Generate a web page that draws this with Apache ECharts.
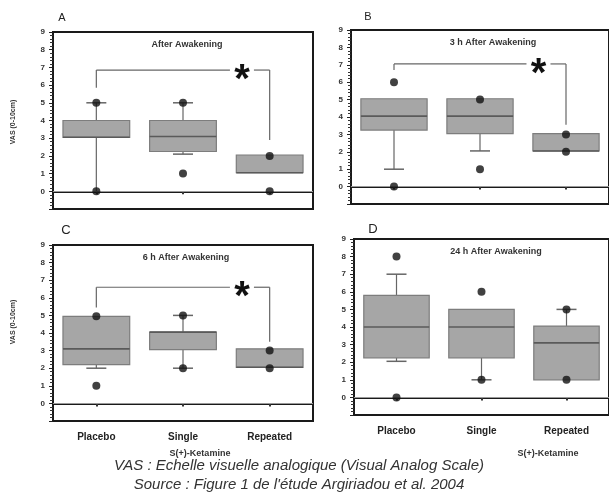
<!DOCTYPE html>
<html>
<head>
<meta charset="utf-8">
<script src="https://cdn.jsdelivr.net/npm/echarts@6/dist/echarts.min.js"></script>
<style>html,body{margin:0;padding:0;background:#fff}#c{width:609px;height:500px}</style>
</head>
<body>
<div id="c"></div>
<script>
// ---------- data ----------
const categories = ['Placebo', 'Single', 'Repeated'];
const panelLetters = ['A', 'B', 'C', 'D'];
const panelTitles = ['After Awakening', '3 h After Awakening', '6 h After Awakening', '24 h After Awakening'];
const yMin = -1, yMax = 9;

// boxes: [q1, median, q3] per category
const boxA = [[3.05, 3.05, 4.0], [2.25, 3.1, 4.0], [1.05, 1.05, 2.05]];
const boxB = [[3.25, 4.05, 5.05], [3.05, 4.05, 5.05], [2.05, 2.05, 3.05]];
const boxC = [[2.2, 3.1, 4.95], [3.05, 4.05, 4.05], [2.05, 2.05, 3.1]];
const boxD = [[2.25, 4.0, 5.8], [2.25, 4.0, 5.0], [1.0, 3.1, 4.05]];

// whiskers: [low end, high end] (null = none)
const whiskerA = [[0, 5], [2.1, 5], [null, null]];
const whiskerB = [[1.0, null], [2.05, null], [null, null]];
const whiskerC = [[2.0, null], [2.0, 5.0], [null, null]];
const whiskerD = [[2.05, 7.0], [1.0, null], [null, 5.0]];

// whisker caps: [low cap, high cap]
const capA = [[0, 1], [1, 1], [0, 0]];
const capB = [[1, 0], [1, 0], [0, 0]];
const capC = [[1, 0], [1, 1], [0, 0]];
const capD = [[1, 1], [1, 0], [0, 1]];

// individual dots: [category index, value]
const dotsA = [[0, 5], [0, 0], [1, 5], [1, 1], [2, 2], [2, 0]];
const dotsB = [[0, 6], [0, 0], [1, 5], [1, 1], [2, 3], [2, 2]];
const dotsC = [[0, 4.95], [0, 1], [1, 5], [1, 2], [2, 3], [2, 2]];
const dotsD = [[0, 8], [0, 0], [1, 6], [1, 1], [2, 5], [2, 1]];

// significance bracket: [bar level, placebo leg end, repeated leg end]
const bracketA = [6.85, 5.85, 2.9];
const bracketB = [7.05, 6.7, 3.55];
const bracketC = [6.6, 5.45, 3.5];
const bracketD = null;

const panels = [
  {box: boxA, wh: whiskerA, cap: capA, dots: dotsA, br: bracketA},
  {box: boxB, wh: whiskerB, cap: capB, dots: dotsB, br: bracketB},
  {box: boxC, wh: whiskerC, cap: capC, dots: dotsC, br: bracketC},
  {box: boxD, wh: whiskerD, cap: capD, dots: dotsD, br: bracketD}
];

// ---------- layout ----------
const grids = [
  {left: 53, top: 32, width: 260, height: 177},
  {left: 351, top: 30, width: 261, height: 174},
  {left: 53, top: 245, width: 260, height: 176},
  {left: 354, top: 239, width: 261, height: 176}
];

const FONT = 'Liberation Sans, Arial, sans-serif';
const chart = echarts.init(document.getElementById('c'), null, {renderer: 'canvas'});

const xAxes = [], yAxes = [], series = [];
panels.forEach((p, k) => {
  const bottomRow = k >= 2;
  xAxes.push({
    type: 'category', gridIndex: k, data: categories, boundaryGap: true,
    axisLine: {show: true, lineStyle: {color: '#1a1a1a', width: 2}},
    axisTick: {show: true, alignWithLabel: true, length: 3, lineStyle: {color: '#333', width: 2}},
    axisLabel: {show: bottomRow, fontFamily: FONT, fontSize: 10, fontWeight: 'bold', color: '#222', margin: 11},
    splitLine: {show: false}
  });
  yAxes.push({
    type: 'value', gridIndex: k, min: yMin, max: yMax, interval: 1,
    axisLine: {show: true, lineStyle: {color: '#1a1a1a', width: 2}},
    axisTick: {show: true, length: 4, lineStyle: {color: '#222', width: 1}},
    minorTick: {show: true, splitNumber: 5, length: 3, lineStyle: {color: '#333', width: 1}},
    axisLabel: {fontFamily: FONT, fontSize: 8, fontWeight: 'bold', color: '#333', margin: 8,
      formatter: v => (v < 0 ? '' : String(v))},
    splitLine: {show: false}
  });

  // boxes + whiskers
  series.push({
    type: 'custom', xAxisIndex: k, yAxisIndex: k, z: 3,
    data: categories.map((c, i) => [i, p.box[i][0], p.box[i][2]]),
    encode: {x: 0, y: [1, 2]},
    renderItem: (params, api) => {
      const i = params.dataIndex;
      const [q1, med, q3] = p.box[i];
      const [wl, wh] = p.wh[i];
      const [cl, ch] = p.cap[i];
      const band = api.size([1, 0])[0];
      const bw = band * 0.77, capW = 20;
      const a = api.coord([i, q1]), b = api.coord([i, q3]), m = api.coord([i, med]);
      const cx = a[0];
      const els = [];
      if (wl !== null) {
        const w = api.coord([i, wl]);
        els.push({type: 'line', shape: {x1: cx, y1: a[1], x2: cx, y2: w[1]}, style: {stroke: '#666', lineWidth: 1.2}});
        if (cl) els.push({type: 'line', shape: {x1: cx - capW / 2, y1: w[1], x2: cx + capW / 2, y2: w[1]}, style: {stroke: '#666', lineWidth: 1.5}});
      }
      if (wh !== null) {
        const w = api.coord([i, wh]);
        els.push({type: 'line', shape: {x1: cx, y1: b[1], x2: cx, y2: w[1]}, style: {stroke: '#666', lineWidth: 1.2}});
        if (ch) els.push({type: 'line', shape: {x1: cx - capW / 2, y1: w[1], x2: cx + capW / 2, y2: w[1]}, style: {stroke: '#666', lineWidth: 1.5}});
      }
      els.push({type: 'rect', shape: {x: cx - bw / 2, y: b[1], width: bw, height: a[1] - b[1]},
        style: {fill: '#a6a6a6', stroke: '#7d7d7d', lineWidth: 1.2}});
      els.push({type: 'line', shape: {x1: cx - bw / 2, y1: m[1], x2: cx + bw / 2, y2: m[1]}, style: {stroke: '#5a5a5a', lineWidth: 1.6}});
      return {type: 'group', children: els};
    }
  });

  // dots + zero line
  series.push({
    type: 'scatter', xAxisIndex: k, yAxisIndex: k, z: 5,
    data: p.dots, symbolSize: 8, itemStyle: {color: '#111'},
    markLine: {silent: true, symbol: ['none', 'none'], label: {show: false},
      lineStyle: {color: '#999', width: 1, type: 'solid'}, data: [{yAxis: 0}]}
  });

  // bracket
  if (p.br) {
    series.push({
      type: 'custom', xAxisIndex: k, yAxisIndex: k, z: 4,
      data: [[0, p.br[0]]],
      encode: {x: 0, y: 1},
      renderItem: (params, api) => {
        const [lvl, l1, l2] = p.br;
        const t0 = api.coord([0, lvl]), t2 = api.coord([2, lvl]);
        const e1 = api.coord([0, l1]), e2 = api.coord([2, l2]);
        const sx = t0[0] + 0.84 * (t2[0] - t0[0]);
        const st = {stroke: '#666', lineWidth: 1.2};
        return {type: 'group', children: [
          {type: 'line', shape: {x1: t0[0], y1: e1[1], x2: t0[0], y2: t0[1]}, style: st},
          {type: 'line', shape: {x1: t0[0], y1: t0[1], x2: sx - 12, y2: t0[1]}, style: st},
          {type: 'line', shape: {x1: sx + 12, y1: t0[1], x2: t2[0], y2: t0[1]}, style: st},
          {type: 'line', shape: {x1: t2[0], y1: t0[1], x2: t2[0], y2: e2[1]}, style: st},
          {type: 'text', x: sx, y: t0[1] + 11, style: {text: '*', font: 'bold 40px ' + FONT, fill: '#111', align: 'center', verticalAlign: 'middle'}}
        ]};
      }
    });
  }
});

// ---------- texts ----------
const letterPos = [[62, 18], [368, 17], [66, 230], [373, 229]];
const titlePos = [[187, 45], [493, 43], [186, 258], [496, 252]];
const graphic = [];
panelLetters.forEach((t, k) => {
  graphic.push({type: 'text', x: letterPos[k][0], y: letterPos[k][1],
    style: {text: t, font: (k >= 2 ? '13px ' : '11px ') + FONT, fill: '#222', align: 'center', verticalAlign: 'middle'}});
  graphic.push({type: 'text', x: titlePos[k][0], y: titlePos[k][1],
    style: {text: panelTitles[k], font: 'bold 9px ' + FONT, fill: '#333', align: 'center', verticalAlign: 'middle'}});
});
[[13, 122], [13, 322]].forEach(pt => {
  graphic.push({type: 'text', x: pt[0], y: pt[1], rotation: Math.PI / 2,
    style: {text: 'VAS (0-10cm)', font: 'bold 7px ' + FONT, fill: '#333', align: 'center', verticalAlign: 'middle'}});
});
[[200, 454], [548, 454]].forEach(pt => {
  graphic.push({type: 'text', x: pt[0], y: pt[1],
    style: {text: 'S(+)-Ketamine', font: 'bold 9px ' + FONT, fill: '#333', align: 'center', verticalAlign: 'middle'}});
});
graphic.push({type: 'text', x: 299, y: 466,
  style: {text: 'VAS : Echelle visuelle analogique (Visual Analog Scale)', font: 'italic 15px ' + FONT, fill: '#333', align: 'center', verticalAlign: 'middle'}});
graphic.push({type: 'text', x: 299, y: 485,
  style: {text: "Source : Figure 1 de l'étude Argiriadou et al. 2004", font: 'italic 15px ' + FONT, fill: '#333', align: 'center', verticalAlign: 'middle'}});

chart.setOption({
  animation: false,
  backgroundColor: '#fff',
  grid: grids.map(g => Object.assign({show: true, borderColor: '#1a1a1a', borderWidth: 2, backgroundColor: 'transparent'}, g)),
  xAxis: xAxes,
  yAxis: yAxes,
  series: series,
  graphic: graphic
});
</script>
</body>
</html>
